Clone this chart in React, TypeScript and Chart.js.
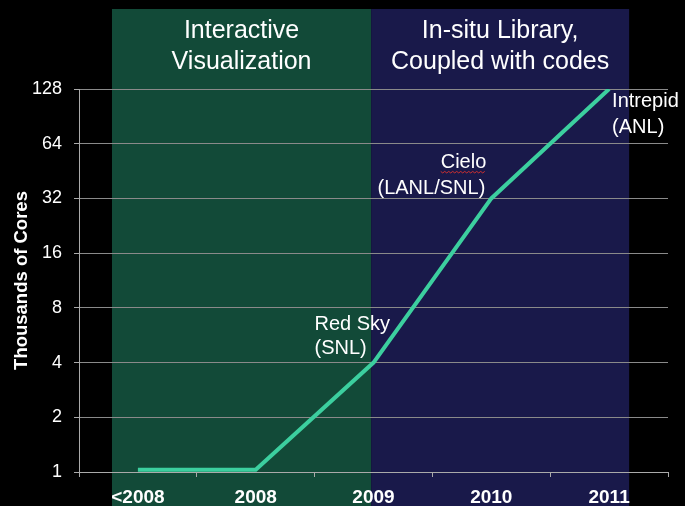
import React, { useEffect, useRef } from "react";
import { Chart, registerables } from "chart.js";

Chart.register(...registerables);

const categories = ["<2008", "2008", "2009", "2010", "2011"];
const coresThousands = [1.03, 1.03, 4, 32, 128];
const yTickValues = [1, 2, 4, 8, 16, 32, 64, 128];

// background panels, expressed in category-index units
const panelLabels = [["Interactive", "Visualization"], ["In-situ Library,", "Coupled with codes"]];
const panelStarts = [-0.22, 1.98];
const panelEnds = [1.98, 4.17];
const panelColors = ["#124a38", "#19194a"];

// point annotations
const annotationIndex = [2, 3, 4];
const annotationLines = [["Red Sky", "(SNL)"], ["Cielo", "(LANL/SNL)"], ["Intrepid", "(ANL)"]];

const FONT = "'Liberation Sans', Arial, Helvetica, sans-serif";

export default function App() {
  const ref = useRef<HTMLCanvasElement | null>(null);

  useEffect(() => {
    document.body.style.margin = "0";
    document.body.style.background = "#000";
    const canvas = ref.current;
    if (!canvas) return;

    const backgroundPlugin = {
      id: "panels",
      beforeDraw(chart: any) {
        const { ctx, width, height, scales } = chart;
        ctx.save();
        ctx.fillStyle = "#000";
        ctx.fillRect(0, 0, width, height);
        const x = scales.x;
        for (let i = 0; i < panelStarts.length; i++) {
          const x0 = x.getPixelForValue(panelStarts[i]);
          const x1 = x.getPixelForValue(panelEnds[i]);
          ctx.fillStyle = panelColors[i];
          ctx.fillRect(x0, 9, x1 - x0, height - 9);
          ctx.fillStyle = "#ffffff";
          ctx.font = `25px ${FONT}`;
          ctx.textAlign = "center";
          ctx.textBaseline = "alphabetic";
          const cx = (x0 + x1) / 2;
          ctx.fillText(panelLabels[i][0], cx, 38);
          ctx.fillText(panelLabels[i][1], cx, 69);
        }
        ctx.restore();
      },
      afterDatasetsDraw(chart: any) {
        const { ctx } = chart;
        const meta = chart.getDatasetMeta(0);
        ctx.save();
        ctx.fillStyle = "#ffffff";
        ctx.font = `20px ${FONT}`;
        ctx.textBaseline = "alphabetic";
        annotationIndex.forEach((idx, k) => {
          const pt = meta.data[idx];
          const px = pt.x;
          const py = pt.y;
          const lines = annotationLines[k];
          if (k === 0) {
            ctx.textAlign = "left";
            ctx.fillText(lines[0], px - 59, py - 33);
            ctx.fillText(lines[1], px - 59, py - 9);
          } else if (k === 1) {
            ctx.textAlign = "right";
            ctx.fillText(lines[0], px - 5, py - 30);
            ctx.fillText(lines[1], px - 6, py - 4);
            // spell-check squiggle under "Cielo"
            const w = ctx.measureText(lines[0]).width;
            ctx.strokeStyle = "#d03030";
            ctx.lineWidth = 1;
            ctx.beginPath();
            const sx = px - 5 - w;
            const sy = py - 27;
            for (let xx = 0; xx <= w; xx += 2) {
              const yy = sy + ((xx / 2) % 2 === 0 ? 0 : 1.5);
              if (xx === 0) ctx.moveTo(sx + xx, yy);
              else ctx.lineTo(sx + xx, yy);
            }
            ctx.stroke();
          } else {
            ctx.textAlign = "left";
            ctx.fillText(lines[0], px + 3, py + 18);
            ctx.fillText(lines[1], px + 3, py + 44);
          }
        });
        ctx.restore();
      },
    };

    const chart = new Chart(canvas, {
      type: "line",
      data: {
        labels: categories,
        datasets: [
          {
            data: coresThousands,
            borderColor: "#3ccf9f",
            borderWidth: 4,
            pointRadius: 0,
            tension: 0,
            fill: false,
          },
        ],
      },
      options: {
        animation: false,
        responsive: true,
        maintainAspectRatio: false,
        layout: { padding: { top: 89, right: 17, left: 0, bottom: 0 } },
        plugins: {
          legend: { display: false },
          tooltip: { enabled: false },
          title: { display: false },
        },
        scales: {
          x: {
            type: "category",
            offset: true,
            grid: {
              offset: true,
              drawOnChartArea: false,
              drawTicks: true,
              tickLength: 5,
              color: "#aaaaaa",
            },
            border: { display: true, color: "#aaaaaa", width: 1 },
            ticks: {
              color: "#ffffff",
              padding: 9,
              maxRotation: 0,
              autoSkip: false,
              font: { family: FONT, size: 19, weight: "bold" },
            },
            afterFit(scale: any) {
              scale.height = 34;
            },
          },
          y: {
            type: "logarithmic",
            min: 1,
            max: 128,
            grid: {
              color: "#8a8a8a",
              lineWidth: 1,
              drawTicks: true,
              tickLength: 5,
              tickColor: "#aaaaaa",
            },
            border: { display: true, color: "#aaaaaa", width: 1 },
            afterBuildTicks(scale: any) {
              scale.ticks = yTickValues.map((v) => ({ value: v }));
            },
            ticks: {
              color: "#ffffff",
              padding: 12,
              font: { family: FONT, size: 18 },
              callback: (v: any) => String(v),
            },
            title: {
              display: true,
              text: "Thousands of Cores",
              color: "#ffffff",
              font: { family: FONT, size: 18.5, weight: "bold" },
              padding: { top: 11, bottom: 0 },
            },
            afterFit(scale: any) {
              scale.width = 79;
            },
          },
        },
      },
      plugins: [backgroundPlugin],
    });

    return () => chart.destroy();
  }, []);

  return (
    <div style={{ width: 685, height: 506, position: "relative", background: "#000" }}>
      <canvas ref={ref} />
    </div>
  );
}
